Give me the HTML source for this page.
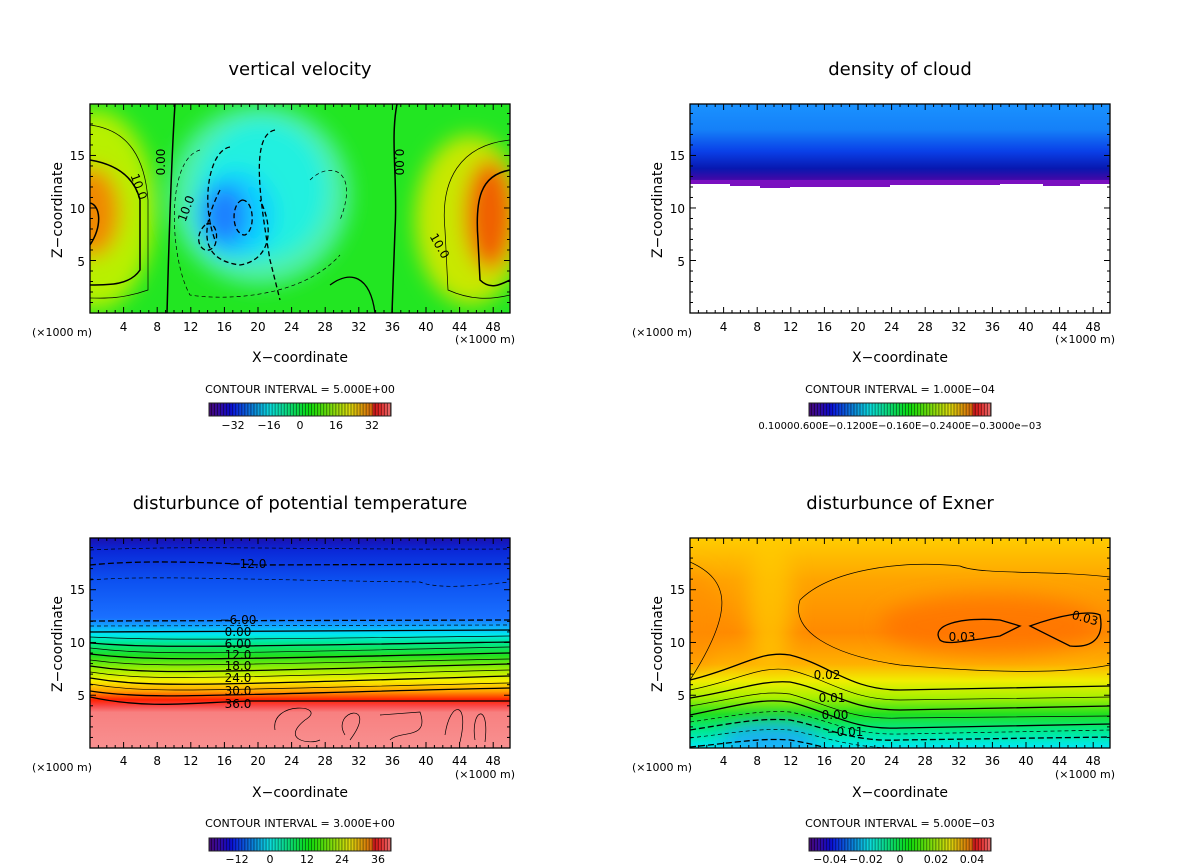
<!DOCTYPE html>
<html><head><meta charset="utf-8"><style>
html,body{margin:0;padding:0;background:#fff;width:1200px;height:868px;overflow:hidden}
svg text{font-family:"DejaVu Sans","Liberation Sans",sans-serif;fill:#000}
</style></head><body>
<svg id="s" width="1200" height="868" viewBox="0 0 1200 868" xmlns="http://www.w3.org/2000/svg">
<defs>
<filter id="bl" x="-50%" y="-50%" width="200%" height="200%"><feGaussianBlur stdDeviation="10"/></filter>
<clipPath id="c1"><rect x="90" y="104" width="420" height="209"/></clipPath>
<clipPath id="c2"><rect x="690" y="104" width="420" height="209"/></clipPath>
<clipPath id="c3"><rect x="90" y="538" width="420" height="210"/></clipPath>
<clipPath id="c4"><rect x="690" y="538" width="420" height="210"/></clipPath>
<linearGradient id="gTR" x1="0" y1="104" x2="0" y2="190" gradientUnits="userSpaceOnUse">
<stop offset="0" stop-color="#1a92ff"/><stop offset="0.3" stop-color="#1580f8"/><stop offset="0.55" stop-color="#0a40e8"/><stop offset="0.75" stop-color="#0818b0"/><stop offset="0.86" stop-color="#3a0aa8"/><stop offset="1" stop-color="#8010c0"/></linearGradient>
<linearGradient id="gBL" x1="0" y1="538" x2="0" y2="748" gradientUnits="userSpaceOnUse">
<stop offset="0" stop-color="#1a10b0"/><stop offset="0.06" stop-color="#0a28d8"/><stop offset="0.2" stop-color="#0c50f0"/><stop offset="0.38" stop-color="#1a70ff"/><stop offset="0.42" stop-color="#10a8ff"/><stop offset="0.46" stop-color="#00e8f0"/><stop offset="0.5" stop-color="#00e890"/><stop offset="0.56" stop-color="#20e020"/><stop offset="0.63" stop-color="#a8f000"/><stop offset="0.68" stop-color="#f8f000"/><stop offset="0.73" stop-color="#ffa000"/><stop offset="0.77" stop-color="#ff2000"/><stop offset="0.8" stop-color="#f84848"/><stop offset="0.83" stop-color="#f88080"/><stop offset="1" stop-color="#f89090"/></linearGradient>
<linearGradient id="gBR" x1="0" y1="538" x2="0" y2="748" gradientUnits="userSpaceOnUse">
<stop offset="0" stop-color="#ffcc00"/><stop offset="0.2" stop-color="#ffa400"/><stop offset="0.45" stop-color="#ff8a00"/><stop offset="0.6" stop-color="#ffb000"/><stop offset="0.68" stop-color="#f0ee00"/><stop offset="0.76" stop-color="#a8f000"/><stop offset="0.84" stop-color="#20e020"/><stop offset="0.92" stop-color="#00ea90"/><stop offset="1" stop-color="#00e8f8"/></linearGradient>
</defs>

<!-- Panel 1: vertical velocity -->
<g clip-path="url(#c1)">
<rect x="90" y="104" width="420" height="209" fill="#22e622"/>
<g filter="url(#bl)">
<ellipse cx="95" cy="210" rx="60" ry="100" fill="#b8f000"/>
<ellipse cx="92" cy="212" rx="28" ry="45" fill="#f08800"/>
<ellipse cx="470" cy="220" rx="55" ry="85" fill="#c8e800"/>
<ellipse cx="490" cy="215" rx="25" ry="55" fill="#f06000"/>
<ellipse cx="260" cy="195" rx="90" ry="90" fill="#50f0a8"/>
<ellipse cx="262" cy="190" rx="65" ry="70" fill="#20f0e0"/>
<ellipse cx="235" cy="215" rx="40" ry="45" fill="#10d0ff"/>
<ellipse cx="225" cy="215" rx="22" ry="30" fill="#1e80ff"/>
</g>
<g fill="none" stroke="#000">
<path d="M90,160 C120,165 135,180 140,200 L140,270 C130,285 110,285 90,285" stroke-width="1.5"/>
<path d="M90,125 C130,130 145,160 148,200 L148,290 C120,300 100,298 90,298" stroke-width="0.7"/>
<path d="M90,203 C100,205 103,225 90,245" stroke-width="1.5"/>
<path d="M175,104 C172,150 170,200 167,313" stroke-width="1.5"/>
<path d="M397,104 C390,140 398,180 395,230 L392,313" stroke-width="1.5"/>
<path d="M510,170 C480,175 475,200 478,240 L480,280 C490,290 500,285 510,280" stroke-width="1.5"/>
<path d="M510,140 C460,145 440,180 445,230 L448,290 C470,300 490,300 510,295" stroke-width="0.7"/>
<path d="M220,190 C200,230 200,260 240,265 C270,260 275,230 260,200" stroke-width="1.3" stroke-dasharray="5,3"/>
<path d="M230,147 C210,150 200,200 215,240" stroke-width="1.3" stroke-dasharray="5,3"/>
<path d="M205,225 C190,240 205,260 215,245 C220,230 212,220 205,225" stroke-width="1.3" stroke-dasharray="5,3"/>
<path d="M242,200 C230,205 232,235 245,235 C256,230 254,200 242,200" stroke-width="1.3" stroke-dasharray="5,3"/>
<path d="M275,130 C250,135 260,200 270,260 L280,300" stroke-width="1.3" stroke-dasharray="5,3"/>
<path d="M200,150 C165,160 170,260 190,295 C220,300 300,300 340,255" stroke-width="0.7" stroke-dasharray="4,3"/>
<path d="M310,180 C330,160 360,170 340,220" stroke-width="0.7" stroke-dasharray="4,3"/>
<path d="M330,285 C350,270 370,275 375,313" stroke-width="1.3"/>
</g>
</g>
<rect x="90" y="104" width="420" height="209" fill="none" stroke="#000" stroke-width="1.3"/>

<!-- Panel 2 -->
<g clip-path="url(#c2)">
<path d="M690,104 H1110 V184 H1080 V186 H1043 V184 H1000 V185 H980 V183 H950 V184 H890 V187 H838 V187 H790 V188 H760 V186 H730 V184 H690 Z" fill="url(#gTR)"/>
<path d="M690,180 H1110 V184 H1080 V186 H1043 V184 H1000 V185 H890 V187 H838 V187 H790 V188 H760 V186 H730 V184 H690 Z" fill="#7a10c0"/>
</g>
<rect x="690" y="104" width="420" height="209" fill="none" stroke="#000" stroke-width="1.3"/>

<!-- Panel 3 -->
<g clip-path="url(#c3)">
<rect x="90" y="538" width="420" height="210" fill="url(#gBL)"/>
<g fill="none" stroke="#000">
<path d="M90,565 C140,560 200,562 260,565 L510,564" stroke-width="1.3" stroke-dasharray="6,3"/>
<path d="M90,550 C200,545 300,550 510,549" stroke-width="0.7" stroke-dasharray="4,3"/>
<path d="M90,580 C150,575 250,580 420,582 C440,590 480,585 510,582" stroke-width="0.7" stroke-dasharray="4,3"/>
<path d="M90,621 L510,620" stroke-width="1.3" stroke-dasharray="6,3"/>
<path d="M90,626 L510,625" stroke-width="0.7" stroke-dasharray="4,3"/>
<path d="M90,632 L510,630" stroke-width="1.3"/>
<path d="M90,637 C150,640 200,640 510,636" stroke-width="0.7"/>
<path d="M90,643 C150,648 200,647 510,642" stroke-width="1.3"/>
<path d="M90,648 C150,655 200,654 510,647" stroke-width="0.7"/>
<path d="M90,654 C150,661 200,660 510,653" stroke-width="1.3"/>
<path d="M90,660 C150,668 200,665 510,659" stroke-width="0.7"/>
<path d="M90,666 C150,675 200,672 510,664" stroke-width="1.3"/>
<path d="M90,672 C150,681 200,678 510,670" stroke-width="0.7"/>
<path d="M90,678 C150,688 200,685 510,676" stroke-width="1.3"/>
<path d="M90,684 C150,694 200,690 510,683" stroke-width="0.7"/>
<path d="M90,691 C150,700 200,695 510,688" stroke-width="1.3"/>
<path d="M90,697 C150,710 200,702 250,701 L510,701" stroke-width="1.3"/>
<path d="M275,730 C270,700 330,705 305,720 C280,740 310,745 320,740 M345,735 C330,710 380,700 350,740 M380,715 L420,712 C430,740 400,730 390,740 M445,735 C450,700 470,700 460,742 M475,740 C470,710 490,700 485,742" stroke-width="0.7"/>
</g>
<g font-size="12" text-anchor="middle">
<text x="248" y="568">−12.0</text>
<text x="238" y="624">−6.00</text>
<text x="238" y="636">0.00</text>
<text x="238" y="648">6.00</text>
<text x="238" y="659">12.0</text>
<text x="238" y="670">18.0</text>
<text x="238" y="682">24.0</text>
<text x="238" y="695">30.0</text>
<text x="238" y="708">36.0</text>
</g>
</g>
<rect x="90" y="538" width="420" height="210" fill="none" stroke="#000" stroke-width="1.3"/>

<!-- Panel 4 -->
<g clip-path="url(#c4)">
<rect x="690" y="538" width="420" height="210" fill="url(#gBR)"/>
<g filter="url(#bl)">
<ellipse cx="770" cy="600" rx="22" ry="70" fill="#ffcc00" opacity="0.7"/>
<ellipse cx="990" cy="625" rx="110" ry="30" fill="#ff6e00" opacity="0.7"/>
<ellipse cx="690" cy="620" rx="30" ry="50" fill="#ff8c00" opacity="0.6"/>
<ellipse cx="770" cy="740" rx="50" ry="18" fill="#20a0ff" opacity="0.8"/>
</g>
<g fill="none" stroke="#000">
<path d="M690,562 C730,580 735,610 690,680" stroke-width="0.7"/>
<path d="M1110,577 C1050,570 980,575 960,566 C900,560 830,570 800,600 C790,630 830,655 900,665 C980,672 1060,675 1110,665" stroke-width="0.7"/>
<path d="M940,640 C930,625 960,617 1000,620 L1020,626 L1000,636 C960,642 945,645 940,640 Z" stroke-width="1.3"/>
<path d="M1030,626 C1060,615 1090,610 1100,615 C1105,640 1090,648 1070,646 Z" stroke-width="1.3"/>
<path d="M690,680 C740,668 760,650 790,655 C830,665 850,690 900,690 L1110,686" stroke-width="1.3"/>
<path d="M690,690 C740,680 760,665 790,670 C830,680 850,700 900,700 L1110,697" stroke-width="0.7"/>
<path d="M690,698 C740,690 760,680 790,682 C830,690 850,710 900,710 L1110,706" stroke-width="1.3"/>
<path d="M690,706 C740,698 760,690 790,694 C830,705 850,720 900,718 L1110,716" stroke-width="0.7"/>
<path d="M690,715 C740,705 760,698 790,702 C830,712 850,730 900,728 L1110,724" stroke-width="1.3"/>
<path d="M690,722 C740,715 760,710 790,712 C830,720 850,735 900,734 L1110,730" stroke-width="0.7" stroke-dasharray="4,3"/>
<path d="M690,730 C740,722 760,718 790,720 C830,728 850,742 900,740 L1110,737" stroke-width="1.3" stroke-dasharray="6,3"/>
<path d="M690,738 C740,732 760,728 790,730 C830,738 850,748 900,748" stroke-width="0.7" stroke-dasharray="4,3"/>
<path d="M690,747 C740,742 760,738 790,740 C820,745 830,750 840,750" stroke-width="1.3" stroke-dasharray="6,3"/>
</g>
<g font-size="12" text-anchor="middle">
<text x="827" y="679">0.02</text>
<text x="832" y="702">0.01</text>
<text x="835" y="719">0.00</text>
<text x="845" y="736">−0.01</text>
<text x="962" y="641">0.03</text>
<text x="1084" y="622" transform="rotate(15 1084 622)">0.03</text>
</g>
</g>
<rect x="690" y="538" width="420" height="210" fill="none" stroke="#000" stroke-width="1.3"/>

<g id="ticks" stroke="#000" stroke-width="1"></g>
<g id="cbars"></g>

<g font-size="12" text-anchor="middle">
<text x="135" y="188" transform="rotate(70 135 188)">10.0</text>
<text x="165" y="162" transform="rotate(-90 165 162)">0.00</text>
<text x="190" y="210" transform="rotate(-70 190 210)">10.0</text>
<text x="395" y="162" transform="rotate(90 395 162)">0.00</text>
<text x="436" y="248" transform="rotate(60 436 248)">10.0</text>
</g>

<g font-size="18" text-anchor="middle">
<text x="300" y="75">vertical velocity</text>
<text x="900" y="75">density of cloud</text>
<text x="300" y="509">disturbunce of potential temperature</text>
<text x="900" y="509">disturbunce of Exner</text>
</g>
<g font-size="14" text-anchor="middle">
<text x="300" y="362">X−coordinate</text>
<text x="900" y="362">X−coordinate</text>
<text x="300" y="797">X−coordinate</text>
<text x="900" y="797">X−coordinate</text>
<text transform="translate(62,210) rotate(-90)">Z−coordinate</text>
<text transform="translate(662,210) rotate(-90)">Z−coordinate</text>
<text transform="translate(62,644) rotate(-90)">Z−coordinate</text>
<text transform="translate(662,644) rotate(-90)">Z−coordinate</text>
</g>
<g font-size="11" text-anchor="middle">
<text x="300" y="393">CONTOUR INTERVAL = 5.000E+00</text>
<text x="900" y="393">CONTOUR INTERVAL = 1.000E−04</text>
<text x="300" y="827">CONTOUR INTERVAL = 3.000E+00</text>
<text x="900" y="827">CONTOUR INTERVAL = 5.000E−03</text>
</g>
<g font-size="11">
<text x="32" y="336">(×1000 m)</text><text x="455" y="343">(×1000 m)</text>
<text x="632" y="336">(×1000 m)</text><text x="1055" y="343">(×1000 m)</text>
<text x="32" y="771">(×1000 m)</text><text x="455" y="778">(×1000 m)</text>
<text x="632" y="771">(×1000 m)</text><text x="1055" y="778">(×1000 m)</text>
</g>
<g font-size="12" text-anchor="middle">
<text x="123.6" y="331">4</text><text x="157.2" y="331">8</text><text x="190.8" y="331">12</text><text x="224.4" y="331">16</text><text x="258" y="331">20</text><text x="291.6" y="331">24</text><text x="325.2" y="331">28</text><text x="358.8" y="331">32</text><text x="392.4" y="331">36</text><text x="426" y="331">40</text><text x="459.6" y="331">44</text><text x="493.2" y="331">48</text>
<text x="723.6" y="331">4</text><text x="757.2" y="331">8</text><text x="790.8" y="331">12</text><text x="824.4" y="331">16</text><text x="858" y="331">20</text><text x="891.6" y="331">24</text><text x="925.2" y="331">28</text><text x="958.8" y="331">32</text><text x="992.4" y="331">36</text><text x="1026" y="331">40</text><text x="1059.6" y="331">44</text><text x="1093.2" y="331">48</text>
<text x="123.6" y="765">4</text><text x="157.2" y="765">8</text><text x="190.8" y="765">12</text><text x="224.4" y="765">16</text><text x="258" y="765">20</text><text x="291.6" y="765">24</text><text x="325.2" y="765">28</text><text x="358.8" y="765">32</text><text x="392.4" y="765">36</text><text x="426" y="765">40</text><text x="459.6" y="765">44</text><text x="493.2" y="765">48</text>
<text x="723.6" y="765">4</text><text x="757.2" y="765">8</text><text x="790.8" y="765">12</text><text x="824.4" y="765">16</text><text x="858" y="765">20</text><text x="891.6" y="765">24</text><text x="925.2" y="765">28</text><text x="958.8" y="765">32</text><text x="992.4" y="765">36</text><text x="1026" y="765">40</text><text x="1059.6" y="765">44</text><text x="1093.2" y="765">48</text>
</g>
<g font-size="12" text-anchor="end">
<text x="85" y="160">15</text><text x="85" y="213">10</text><text x="85" y="266">5</text>
<text x="685" y="160">15</text><text x="685" y="213">10</text><text x="685" y="266">5</text>
<text x="85" y="594">15</text><text x="85" y="647">10</text><text x="85" y="700">5</text>
<text x="685" y="594">15</text><text x="685" y="647">10</text><text x="685" y="700">5</text>
</g>
<g font-size="11" text-anchor="middle">
<text x="233" y="429">−32</text><text x="269" y="429">−16</text><text x="300" y="429">0</text><text x="336" y="429">16</text><text x="372" y="429">32</text>
<text x="900" y="429" font-size="10">0.10000.600E−0.1200E−0.160E−0.2400E−0.3000e−03</text>
<text x="237" y="863">−12</text><text x="270" y="863">0</text><text x="307" y="863">12</text><text x="342" y="863">24</text><text x="378" y="863">36</text>
<text x="830" y="863">−0.04</text><text x="866" y="863">−0.02</text><text x="900" y="863">0</text><text x="936" y="863">0.02</text><text x="972" y="863">0.04</text>
</g>
</svg>
<script>
(function(){
var NS="http://www.w3.org/2000/svg";
var tg=document.getElementById("ticks"),cb=document.getElementById("cbars");
function ln(x1,y1,x2,y2){var l=document.createElementNS(NS,"line");l.setAttribute("x1",x1);l.setAttribute("y1",y1);l.setAttribute("x2",x2);l.setAttribute("y2",y2);tg.appendChild(l);}
var P=[[90,104,209],[690,104,209],[90,538,210],[690,538,210]];
P.forEach(function(p){var x0=p[0],y0=p[1],h=p[2],yb=y0+h;
for(var i=1;i<50;i++){var x=x0+i*8.4,L=(i%4==0)?6:3;ln(x,yb,x,yb-L);ln(x,y0,x,y0+L);}
var s=h/19.9;
for(var j=1;j<20;j++){var y=yb-j*s,L=(j%5==0)?6:3;ln(x0,y,x0+L,y);ln(x0+420,y,x0+420-L,y);}
});
var C=[[209,403],[809,403],[209,838],[809,838]];
C.forEach(function(c){var n=60,w=182/n;
for(var i=0;i<n;i++){var t=i/(n-1),hue,l;
 hue=270-t*270; if(hue<0)hue=0; l=t<0.15?25+t*150:(t>0.9?55+(t-0.9)*150:45);
 var r=document.createElementNS(NS,"rect");r.setAttribute("x",c[0]+i*w);r.setAttribute("y",c[1]);r.setAttribute("width",w+0.3);r.setAttribute("height",13);
 var col="hsl("+hue+",90%,"+l+"%)"; if(t>0.9) col="hsl(0,75%,"+(40+(t-0.9)*250)+"%)";
 r.setAttribute("fill",col);cb.appendChild(r);
 var d=document.createElementNS(NS,"rect");d.setAttribute("x",c[0]+i*w+w*0.65);d.setAttribute("y",c[1]);d.setAttribute("width",w*0.35);d.setAttribute("height",13);d.setAttribute("fill","#000");d.setAttribute("opacity","0.45");cb.appendChild(d);}
var b=document.createElementNS(NS,"rect");b.setAttribute("x",c[0]);b.setAttribute("y",c[1]);b.setAttribute("width",182);b.setAttribute("height",13);b.setAttribute("fill","none");b.setAttribute("stroke","#222");cb.appendChild(b);});
})();
</script>
</body></html>
